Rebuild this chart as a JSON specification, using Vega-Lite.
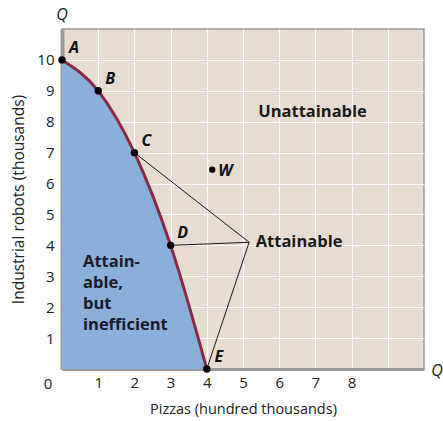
{
  "$schema": "https://vega.github.io/schema/vega-lite/v6.json",
  "width": 362,
  "height": 340,
  "autosize": {"type": "none"},
  "padding": {"left": 62, "top": 29, "right": 19, "bottom": 52},
  "background": "white",
  "config": {
    "view": {"fill": "#e7dcd1", "stroke": "#9b9b9b", "strokeWidth": 1.5},
    "font": "Open Sans",
    "axis": {"zindex": 1}
  },
  "datasets": {
    "ppf": [
      {"point": "A", "pizzas": 0, "robots": 10},
      {"point": "B", "pizzas": 1, "robots": 9},
      {"point": "C", "pizzas": 2, "robots": 7},
      {"point": "D", "pizzas": 3, "robots": 4},
      {"point": "E", "pizzas": 4, "robots": 0}
    ],
    "links": [
      {"pizzas": 2, "robots": 7, "px": 5.17, "py": 4.1},
      {"pizzas": 3, "robots": 4, "px": 5.17, "py": 4.1},
      {"pizzas": 4, "robots": 0, "px": 5.17, "py": 4.1}
    ],
    "other": [
      {"point": "W", "pizzas": 4.15, "robots": 6.45}
    ],
    "regions": [
      {"label": "Unattainable", "pizzas": 5.42, "robots": 8.32},
      {"label": "Attainable", "pizzas": 5.35, "robots": 4.1}
    ]
  },
  "encoding": {
    "x": {
      "field": "pizzas", "type": "quantitative",
      "scale": {"domain": [0, 10], "nice": false, "zero": true},
      "axis": {
        "title": "Pizzas (hundred thousands)",
        "values": [1, 2, 3, 4, 5, 6, 7, 8, 9],
        "labelExpr": "datum.value <= 8 ? datum.label : ''",
        "ticks": false,
        "labelPadding": 6,
        "labelFontSize": 15,
        "labelColor": "#222",
        "titleFontSize": 14.5,
        "titleFontWeight": "normal",
        "titleColor": "#222",
        "titlePadding": 12,
        "grid": true,
        "gridColor": "#ffffff",
        "gridWidth": 1.2,
        "domainColor": "#9b9b9b",
        "domainWidth": 3
      }
    },
    "y": {
      "field": "robots", "type": "quantitative",
      "scale": {"domain": [0, 11], "nice": false, "zero": true},
      "axis": {
        "title": "Industrial robots (thousands)",
        "values": [1, 2, 3, 4, 5, 6, 7, 8, 9, 10],
        "ticks": false,
        "labelPadding": 8,
        "labelFontSize": 15,
        "labelColor": "#222",
        "titleFontSize": 15.5,
        "titleFontWeight": "normal",
        "titleColor": "#222",
        "titlePadding": 10,
        "grid": true,
        "gridColor": "#ffffff",
        "gridWidth": 1.2,
        "domainColor": "#9b9b9b",
        "domainWidth": 4
      }
    }
  },
  "layer": [
    {
      "data": {"name": "ppf"},
      "mark": {"type": "area", "interpolate": "monotone", "color": "#8aafd8"}
    },
    {
      "data": {"name": "links"},
      "mark": {"type": "rule", "color": "#1a1a1a", "strokeWidth": 1},
      "encoding": {"x2": {"field": "px"}, "y2": {"field": "py"}}
    },
    {
      "data": {"name": "ppf"},
      "mark": {"type": "line", "interpolate": "monotone", "color": "#8b2a48", "strokeWidth": 3}
    },
    {
      "data": {"name": "ppf"},
      "mark": {"type": "point", "filled": true, "color": "#000000", "size": 55, "opacity": 1}
    },
    {
      "data": {"name": "ppf"},
      "mark": {"type": "text", "fontSize": 16, "fontWeight": "bold", "fontStyle": "italic", "color": "#111", "dx": 12, "dy": -12},
      "encoding": {"text": {"field": "point"}}
    },
    {
      "data": {"name": "other"},
      "mark": {"type": "point", "filled": true, "color": "#000000", "size": 40, "opacity": 1}
    },
    {
      "data": {"name": "other"},
      "mark": {"type": "text", "fontSize": 16, "fontWeight": "bold", "fontStyle": "italic", "color": "#111", "align": "left", "dx": 6, "dy": 1},
      "encoding": {"text": {"field": "point"}}
    },
    {
      "data": {"name": "regions"},
      "mark": {"type": "text", "fontSize": 16.5, "fontWeight": "bold", "color": "#1a1a1a", "align": "left"},
      "encoding": {"text": {"field": "label"}}
    },
    {
      "data": {"values": [{"label": ["Attain-", "able,", "but", "inefficient"], "pizzas": 0.58, "robots": 3.46}]},
      "mark": {"type": "text", "fontSize": 16.5, "fontWeight": "bold", "color": "#1a1a2a", "align": "left", "baseline": "middle", "lineHeight": 21},
      "encoding": {"text": {"field": "label"}}
    },
    {
      "data": {"values": [{"label": "0", "pizzas": 0, "robots": 0}]},
      "mark": {"type": "text", "fontSize": 15, "color": "#222", "dx": -14, "dy": 15},
      "encoding": {"text": {"field": "label"}}
    },
    {
      "data": {"values": [{"label": "Q", "pizzas": 0, "robots": 11}]},
      "mark": {"type": "text", "fontSize": 16, "fontStyle": "italic", "color": "#222", "dy": -14},
      "encoding": {"text": {"field": "label"}}
    },
    {
      "data": {"values": [{"label": "Q", "pizzas": 10, "robots": 0}]},
      "mark": {"type": "text", "fontSize": 16, "fontStyle": "italic", "color": "#222", "dx": 13, "dy": 2},
      "encoding": {"text": {"field": "label"}}
    }
  ]
}
